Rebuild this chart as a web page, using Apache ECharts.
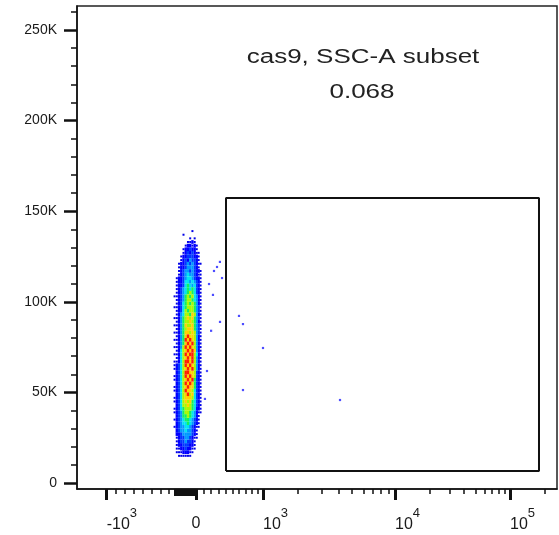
<!DOCTYPE html>
<html><head><meta charset="utf-8">
<script src="https://cdn.jsdelivr.net/npm/echarts@6/dist/echarts.min.js"></script>
<style>html,body{margin:0;padding:0;background:#fff}#c{width:559px;height:535px}</style>
</head><body><div id="c"></div>
<script>
// ---------------- data ----------------
// density grid of the main population (levels 0-9)
const xBinCenters = [-240,-215,-190,-165,-140,-115,-90,-65,-40,-15,10,35,60];
const yBinCentersK = [139,137,135,133,131,129,127,125,123,121,119,117,115,113,111,109,107,105,103,101,
  99,97,95,93,91,89,87,85,83,81,79,77,75,73,71,69,67,65,63,61,59,57,55,53,51,49,47,45,43,41,
  39,37,35,33,31,29,27,25,23,21,19,17,15];
const densityRows = [
  "0000000010000","0000100000000","0000000101000","0000001121000","0000012212100",
  "0000122322100","0000123232110","0001223332210","0001232433210","0012234343211",
  "0012234443210","0012344343221","0012345443211","0122345543221","0122355454321",
  "0122356545321","0123456565321","0123456765321","1123467675421","0123467765421",
  "0123567676421","1123567776431","0123576776431","0124577687421","1124678786431",
  "0124677876421","1124687786431","0124678886431","1124688787431","0124689887421",
  "1124698987421","0124689897421","1124798987421","0125789898421","1125798997521",
  "0125789897421","1125799897421","1235798987421","1235789897421","0235799887321",
  "1235798987321","1235789896321","0235798986321","1235789886321","1235798875321",
  "0235789785321","1235788875321","1235787865321","0235778765321","1235677765221",
  "1234677654211","0234667654210","1234566543210","0234556543210","1234455432110",
  "0234454432100","0223444432100","0123344321100","0123343321000","0122333221000",
  "0112232211000","0111222110000","0011111100000"
];
// isolated events outside the main population
const outlierX = [280,239,349,172,225,596,658,321,1000,145,118,658,4090,320,200];
const outlierY = [119200,117000,113100,109800,103800,92200,87700,88900,74500,61800,46400,51300,45800,122000,84000];
// gate
const gateX = [405, 178700];
const gateY = [6600, 157300];
const gateName = 'cas9, SSC-A subset';
const gateFreq = '0.068';
// axes
const yMajorTicks = [0,50000,100000,150000,200000,250000];
const yMinorTicks = [10000,20000,30000,40000,60000,70000,80000,90000,110000,120000,130000,140000,
  160000,170000,180000,190000,210000,220000,230000,240000,260000];
const xMajorTicks = [-1000,1000,10000,100000];
const xMajorBase = ['-10','10','10','10'];
const xMajorExp = ['3','3','4','5'];
const xZeroTick = [0];
const xMinorTicks = [-900,-800,-700,-600,-500,-400,-300,-200,-100,100,200,300,400,500,600,700,800,900,
  2000,3000,4000,5000,6000,7000,8000,9000,20000,30000,40000,50000,60000,70000,80000,90000,200000];
const xNearZeroTicks = [-240,-220,-200,-180,-160,-140,-120,-100,-80,-60,-40,-20];
const levelColors = ['#ffffff','#0000e8','#0000ff','#0038ff','#0098ff','#00e4f0','#10f060','#a8f800','#ffd000','#ff2000'];

// ------------- biexponential display transform -------------
const negSlope = 0.0893;          // display units per data unit below zero
const A1 = Math.asinh(1), A10 = Math.asinh(10);
function T(v){
  if (v <= 0) return v * negSlope;
  if (v <= 1000) return 67 * Math.asinh(v/1000) / A1;
  if (v <= 10000) return 67 + 132 * (Math.asinh(v/1000) - A1) / (A10 - A1);
  return 199 + 115 * Math.log10(v/10000);
}
const X_MIN = -119, X_MAX = 361;

// ------------- build series data -------------
const cells = [];
densityRows.forEach((row, r) => {
  for (let c = 0; c < row.length; c++) {
    const lv = +row[c];
    if (lv > 0) cells.push([T(xBinCenters[c]), yBinCentersK[r]*1000, lv]);
  }
});
cells.sort((a,b) => a[2]-b[2]);
const outliers = outlierX.map((x,i) => [T(x), outlierY[i]]);
const gatePath = [[gateX[0],gateY[0]],[gateX[1],gateY[0]],[gateX[1],gateY[1]],[gateX[0],gateY[1]],[gateX[0],gateY[0]]]
  .map(p => [T(p[0]), p[1]]);

const FONT = '"Liberation Sans", Arial, sans-serif';
const INK = '#1a1a1a';
const majorT = xMajorTicks.map(T);
function majorLabel(val){
  let best = 0, d = Infinity;
  majorT.forEach((t,i)=>{ const dd = Math.abs(t-val); if (dd<d){d=dd;best=i;} });
  return '{b|' + xMajorBase[best] + '}{s|' + xMajorExp[best] + '}';
}
const rich = {
  b: {fontSize: 16, fontFamily: FONT, color: INK},
  s: {fontSize: 13, fontFamily: FONT, color: INK, padding: [0,0,22,0]}
};

const chart = echarts.init(document.getElementById('c'), null, {renderer: 'canvas'});
chart.setOption({
  animation: false,
  backgroundColor: '#fff',
  grid: {left: 77, top: 6, right: 2, bottom: 46, show: true, borderColor: '#222', borderWidth: 1.5, backgroundColor: 'transparent'},
  xAxis: [
    { type: 'value', position: 'bottom', min: X_MIN, max: X_MAX,
      axisLine: {show: true, onZero: false, lineStyle: {color: '#111', width: 1.5}},
      axisTick: {show: true, length: 11, customValues: majorT.concat(xZeroTick.map(T)), lineStyle: {color: '#111', width: 3}},
      axisLabel: {show: true, customValues: majorT, align: 'left', margin: 18, formatter: majorLabel, rich: rich},
      splitLine: {show: false} },
    { type: 'value', position: 'bottom', min: X_MIN, max: X_MAX,
      axisLine: {show: false, onZero: false},
      axisTick: {show: true, length: 5, customValues: xMinorTicks.map(T), lineStyle: {color: '#111', width: 1.5}},
      axisLabel: {show: true, customValues: xZeroTick.map(T), align: 'center', margin: 27,
        formatter: () => '0', fontSize: 16, fontFamily: FONT, color: INK},
      splitLine: {show: false} },
    { type: 'value', position: 'bottom', min: X_MIN, max: X_MAX,
      axisLine: {show: false, onZero: false},
      axisTick: {show: true, length: 7, customValues: xNearZeroTicks.map(T), lineStyle: {color: '#111', width: 2}},
      axisLabel: {show: false}, splitLine: {show: false} }
  ],
  yAxis: [
    { type: 'value', position: 'left', min: -3300, max: 263200,
      axisLine: {show: true, onZero: false, lineStyle: {color: '#111', width: 1.5}},
      axisTick: {show: true, length: 13, customValues: yMajorTicks, lineStyle: {color: '#111', width: 2.5}},
      axisLabel: {show: true, customValues: yMajorTicks, margin: 20, fontSize: 14, fontFamily: FONT, color: INK,
        formatter: v => v === 0 ? '0' : (v/1000) + 'K'},
      splitLine: {show: false} },
    { type: 'value', position: 'left', min: -3300, max: 263200,
      axisLine: {show: false, onZero: false},
      axisTick: {show: true, length: 6, customValues: yMinorTicks, lineStyle: {color: '#111', width: 1.5}},
      axisLabel: {show: false}, splitLine: {show: false} }
  ],
  series: [
    { type: 'scatter', xAxisIndex: 0, yAxisIndex: 0, data: cells, symbol: 'rect',
      symbolSize: d => d[2] === 1 ? [2, 2] : [2.4, 3.7],
      itemStyle: {color: p => levelColors[p.data[2]], opacity: 1}, silent: true },
    { type: 'scatter', xAxisIndex: 0, yAxisIndex: 0, data: outliers, symbol: 'rect', symbolSize: 2.2,
      itemStyle: {color: '#2020ff'}, silent: true },
    { type: 'line', xAxisIndex: 0, yAxisIndex: 0, data: gatePath, symbol: 'none', silent: true,
      lineStyle: {color: '#111', width: 2} }
  ],
  graphic: [
    { type: 'text', x: 363, y: 57, scaleX: 1.3, silent: true,
      style: {text: gateName, font: '20px ' + FONT, fill: '#222', align: 'center', verticalAlign: 'middle'} },
    { type: 'text', x: 362, y: 92, scaleX: 1.3, silent: true,
      style: {text: gateFreq, font: '20px ' + FONT, fill: '#222', align: 'center', verticalAlign: 'middle'} }
  ]
});
</script></body></html>
